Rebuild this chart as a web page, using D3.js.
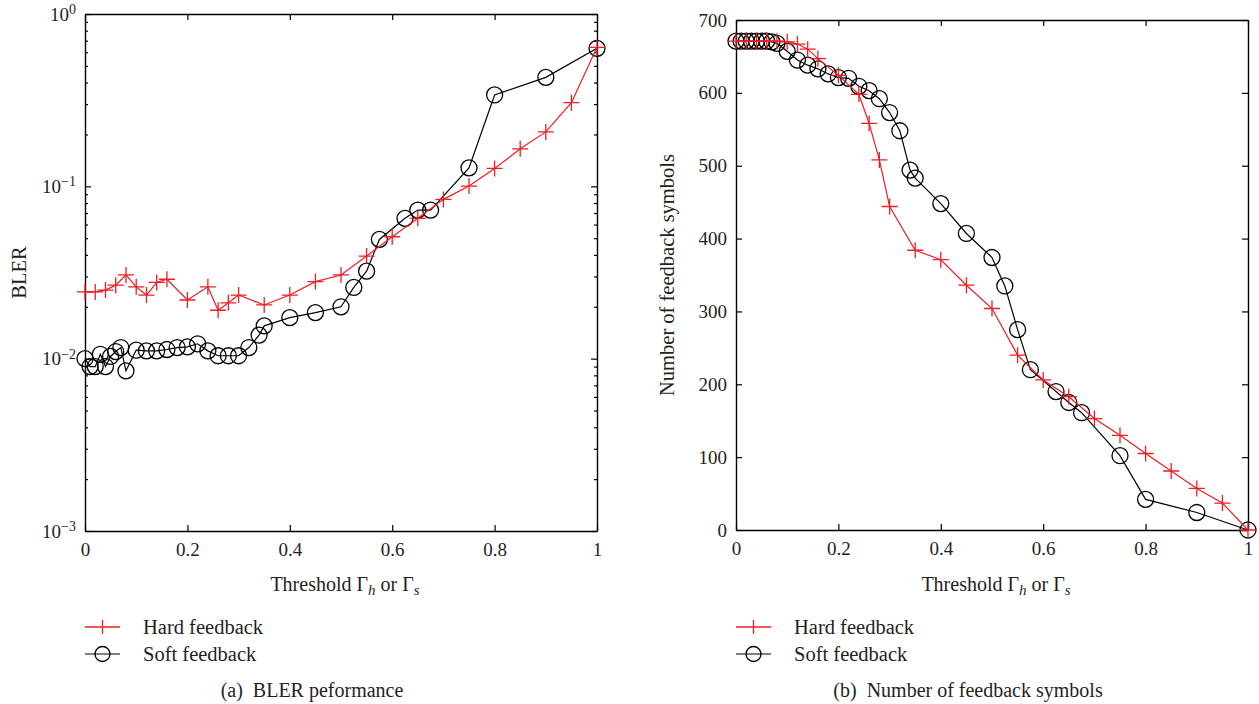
<!DOCTYPE html>
<html>
<head>
<meta charset="utf-8">
<script src="https://cdn.jsdelivr.net/npm/d3@7"></script>
<style>
  body { margin: 0; background: #fff; }
  text { font-family: "Liberation Serif", "Times New Roman", serif; fill: #231f20; }
</style>
</head>
<body>
<svg id="chart" width="1259" height="704"></svg>
<script>
// thresholds
const hardX = [0, 0.02, 0.04, 0.06, 0.08, 0.1, 0.12, 0.14, 0.16, 0.2, 0.24, 0.26, 0.28, 0.3,
  0.35, 0.4, 0.45, 0.5, 0.55, 0.6, 0.65, 0.7, 0.75, 0.8, 0.85, 0.9, 0.95, 1.0];
const softX = [0, 0.01, 0.02, 0.03, 0.04, 0.05, 0.06, 0.07, 0.08, 0.1, 0.12, 0.14, 0.16, 0.18,
  0.2, 0.22, 0.24, 0.26, 0.28, 0.3, 0.32, 0.34, 0.35, 0.4, 0.45, 0.5, 0.525, 0.55, 0.575,
  0.625, 0.65, 0.675, 0.75, 0.8, 0.9, 1.0];

// (a) BLER
const hardBler = [0.0244, 0.0244, 0.025, 0.0267, 0.0306, 0.0261, 0.0234, 0.0277, 0.0289, 0.0219,
  0.0261, 0.0191, 0.0211, 0.0234, 0.0205, 0.0234, 0.028, 0.0306, 0.0394, 0.051, 0.0652, 0.084,
  0.1004, 0.127, 0.165, 0.207, 0.306, 0.641];
const softBler = [0.0100, 0.0090, 0.0090, 0.0106, 0.0090, 0.0103, 0.0110, 0.0116, 0.0085, 0.0112,
  0.0111, 0.0111, 0.0113, 0.0116, 0.0117, 0.0122, 0.0111, 0.0104, 0.0104, 0.0104, 0.0116, 0.0137,
  0.0155, 0.0173, 0.0185, 0.0200, 0.0259, 0.0322, 0.0492, 0.0652, 0.0728, 0.0728, 0.128, 0.339,
  0.429, 0.632];

// (b) number of feedback symbols
const hardSymbols = [671, 671, 671, 671, 671, 670, 667, 660, 647, 624, 598, 558, 508, 444, 384,
  371, 336, 304, 240, 206, 183, 153, 130, 105, 81, 57, 37, 0];
const softSymbols = [671, 671, 671, 671, 671, 671, 671, 670, 668, 657, 645, 638, 633, 626, 621,
  620, 609, 603, 592, 573, 548, 494, 483, 448, 407, 374, 335, 275, 220, 190, 175, 161, 102, 42,
  24, 0];

const xTicks = [0, 0.2, 0.4, 0.6, 0.8, 1];
const blerTicks = [1e-3, 1e-2, 1e-1, 1];
const symbolTicks = [0, 100, 200, 300, 400, 500, 600, 700];
const seriesNames = ["Hard feedback", "Soft feedback"];

const RED = "#ef1d25";
const svg = d3.select("#chart");

// minor ticks for the log axis
const blerMinor = [];
for (let e = -3; e < 0; e++) for (let m = 2; m <= 9; m++) blerMinor.push(m * Math.pow(10, e));

function drawPanel(cfg) {
  const g = svg.append("g");
  const x = d3.scaleLinear().domain([0, 1]).range([cfg.left, cfg.right]);
  const y = cfg.y.range([cfg.bottom, cfg.top]);

  // box with inward ticks
  g.append("g").attr("transform", `translate(0,${cfg.bottom})`)
    .call(d3.axisBottom(x).tickValues(xTicks).tickFormat(d3.format("")).tickSizeInner(-6).tickSizeOuter(0).tickPadding(12));
  g.append("g").attr("transform", `translate(0,${cfg.top})`)
    .call(d3.axisTop(x).tickValues(xTicks).tickFormat("").tickSizeInner(-6).tickSizeOuter(0));
  const left = g.append("g").attr("transform", `translate(${cfg.left},0)`)
    .call(d3.axisLeft(y).tickValues(cfg.yTicks).tickFormat(cfg.yFormat).tickSizeInner(-6).tickSizeOuter(0).tickPadding(9));
  g.append("g").attr("transform", `translate(${cfg.right},0)`)
    .call(d3.axisRight(y).tickValues(cfg.yTicks).tickFormat("").tickSizeInner(-6).tickSizeOuter(0));

  if (cfg.minor) {
    g.append("g").attr("transform", `translate(${cfg.left},0)`)
      .call(d3.axisLeft(y).tickValues(cfg.minor).tickFormat("").tickSizeInner(-3).tickSizeOuter(0))
      .select(".domain").remove();
    g.append("g").attr("transform", `translate(${cfg.right},0)`)
      .call(d3.axisRight(y).tickValues(cfg.minor).tickFormat("").tickSizeInner(-3).tickSizeOuter(0))
      .select(".domain").remove();
  }

  g.selectAll(".domain").attr("stroke", "#000").attr("stroke-width", 1.4);
  g.selectAll(".tick line").attr("stroke", "#000").attr("stroke-width", 1.2);
  g.selectAll(".tick text").attr("font-size", 19).attr("font-family", "Liberation Serif").attr("fill", "#231f20");

  if (cfg.log) {
    left.selectAll(".tick text").each(function(d) {
      const t = d3.select(this);
      const exp = Math.round(Math.log10(d));
      t.text(null);
      t.append("tspan").text("10");
      t.append("tspan").attr("dy", "-0.48em").attr("font-size", 14)
        .text(exp < 0 ? "\u2212" + (-exp) : String(exp));
    });
  }

  // series: soft drawn first, hard on top
  const line = d3.line().x(d => x(d[0])).y(d => y(d[1]));
  const soft = d3.zip(softX, cfg.soft);
  const hard = d3.zip(hardX, cfg.hard);

  g.append("path").datum(soft).attr("d", line)
    .attr("fill", "none").attr("stroke", "#000").attr("stroke-width", 1.2);
  g.append("g").selectAll("circle").data(soft).join("circle")
    .attr("cx", d => x(d[0])).attr("cy", d => y(d[1])).attr("r", 8)
    .attr("fill", "none").attr("stroke", "#000").attr("stroke-width", 1.3);

  g.append("path").datum(hard).attr("d", line)
    .attr("fill", "none").attr("stroke", RED).attr("stroke-width", 1.2);
  g.append("g").selectAll("path").data(hard).join("path")
    .attr("d", d => `M${x(d[0]) - 8},${y(d[1])}H${x(d[0]) + 8}M${x(d[0])},${y(d[1]) - 8}V${y(d[1]) + 8}`)
    .attr("stroke", RED).attr("stroke-width", 1.3);

  // x label
  const xl = g.append("text").attr("x", (cfg.left + cfg.right) / 2 + 4).attr("y", 591)
    .attr("text-anchor", "middle").attr("font-size", 20);
  xl.append("tspan").text("Threshold \u0393");
  xl.append("tspan").attr("font-style", "italic").attr("font-size", 15).attr("dy", 4).text("h");
  xl.append("tspan").attr("dy", -4).text(" or \u0393");
  xl.append("tspan").attr("font-style", "italic").attr("font-size", 15).attr("dy", 4).text("s");

  // y label
  g.append("text")
    .attr("transform", `translate(${cfg.yLabelX},${(cfg.top + cfg.bottom) / 2}) rotate(-90)`)
    .attr("text-anchor", "middle").attr("dy", "0.35em").attr("font-size", 20.5)
    .text(cfg.yLabel);

  // legend
  const lx = cfg.left;
  const leg = g.append("g");
  const hy = 627, sy = 654;
  leg.append("line").attr("x1", lx).attr("x2", lx + 35).attr("y1", hy).attr("y2", hy)
    .attr("stroke", RED).attr("stroke-width", 1.3);
  leg.append("path").attr("d", `M${lx + 17.5},${hy - 7}V${hy + 7}`).attr("stroke", RED).attr("stroke-width", 1.3);
  leg.append("line").attr("x1", lx).attr("x2", lx + 35).attr("y1", sy).attr("y2", sy)
    .attr("stroke", "#000").attr("stroke-width", 1.2);
  leg.append("circle").attr("cx", lx + 17.5).attr("cy", sy).attr("r", 7.5)
    .attr("fill", "none").attr("stroke", "#000").attr("stroke-width", 1.3);
  leg.append("text").attr("x", lx + 58).attr("y", hy + 7).attr("font-size", 20.5).text(seriesNames[0]);
  leg.append("text").attr("x", lx + 58).attr("y", sy + 7).attr("font-size", 20.5).text(seriesNames[1]);

  // caption
  g.append("text").attr("x", cfg.captionX).attr("y", 697).attr("text-anchor", "middle")
    .attr("font-size", 20).attr("xml:space", "preserve").text(cfg.caption);
}

drawPanel({
  left: 85, right: 597, top: 14, bottom: 531,
  y: d3.scaleLog().domain([1e-3, 1]),
  log: true,
  yTicks: blerTicks, minor: blerMinor, yFormat: d => d,
  hard: hardBler, soft: softBler,
  yLabel: "BLER", yLabelX: 19,
  caption: "(a)  BLER peformance", captionX: 312
});

drawPanel({
  left: 736, right: 1248, top: 20, bottom: 530,
  y: d3.scaleLinear().domain([0, 700]),
  log: false,
  yTicks: symbolTicks, minor: null, yFormat: d3.format("d"),
  hard: hardSymbols, soft: softSymbols,
  yLabel: "Number of feedback symbols", yLabelX: 667,
  caption: "(b)  Number of feedback symbols", captionX: 968
});
</script>
</body>
</html>
